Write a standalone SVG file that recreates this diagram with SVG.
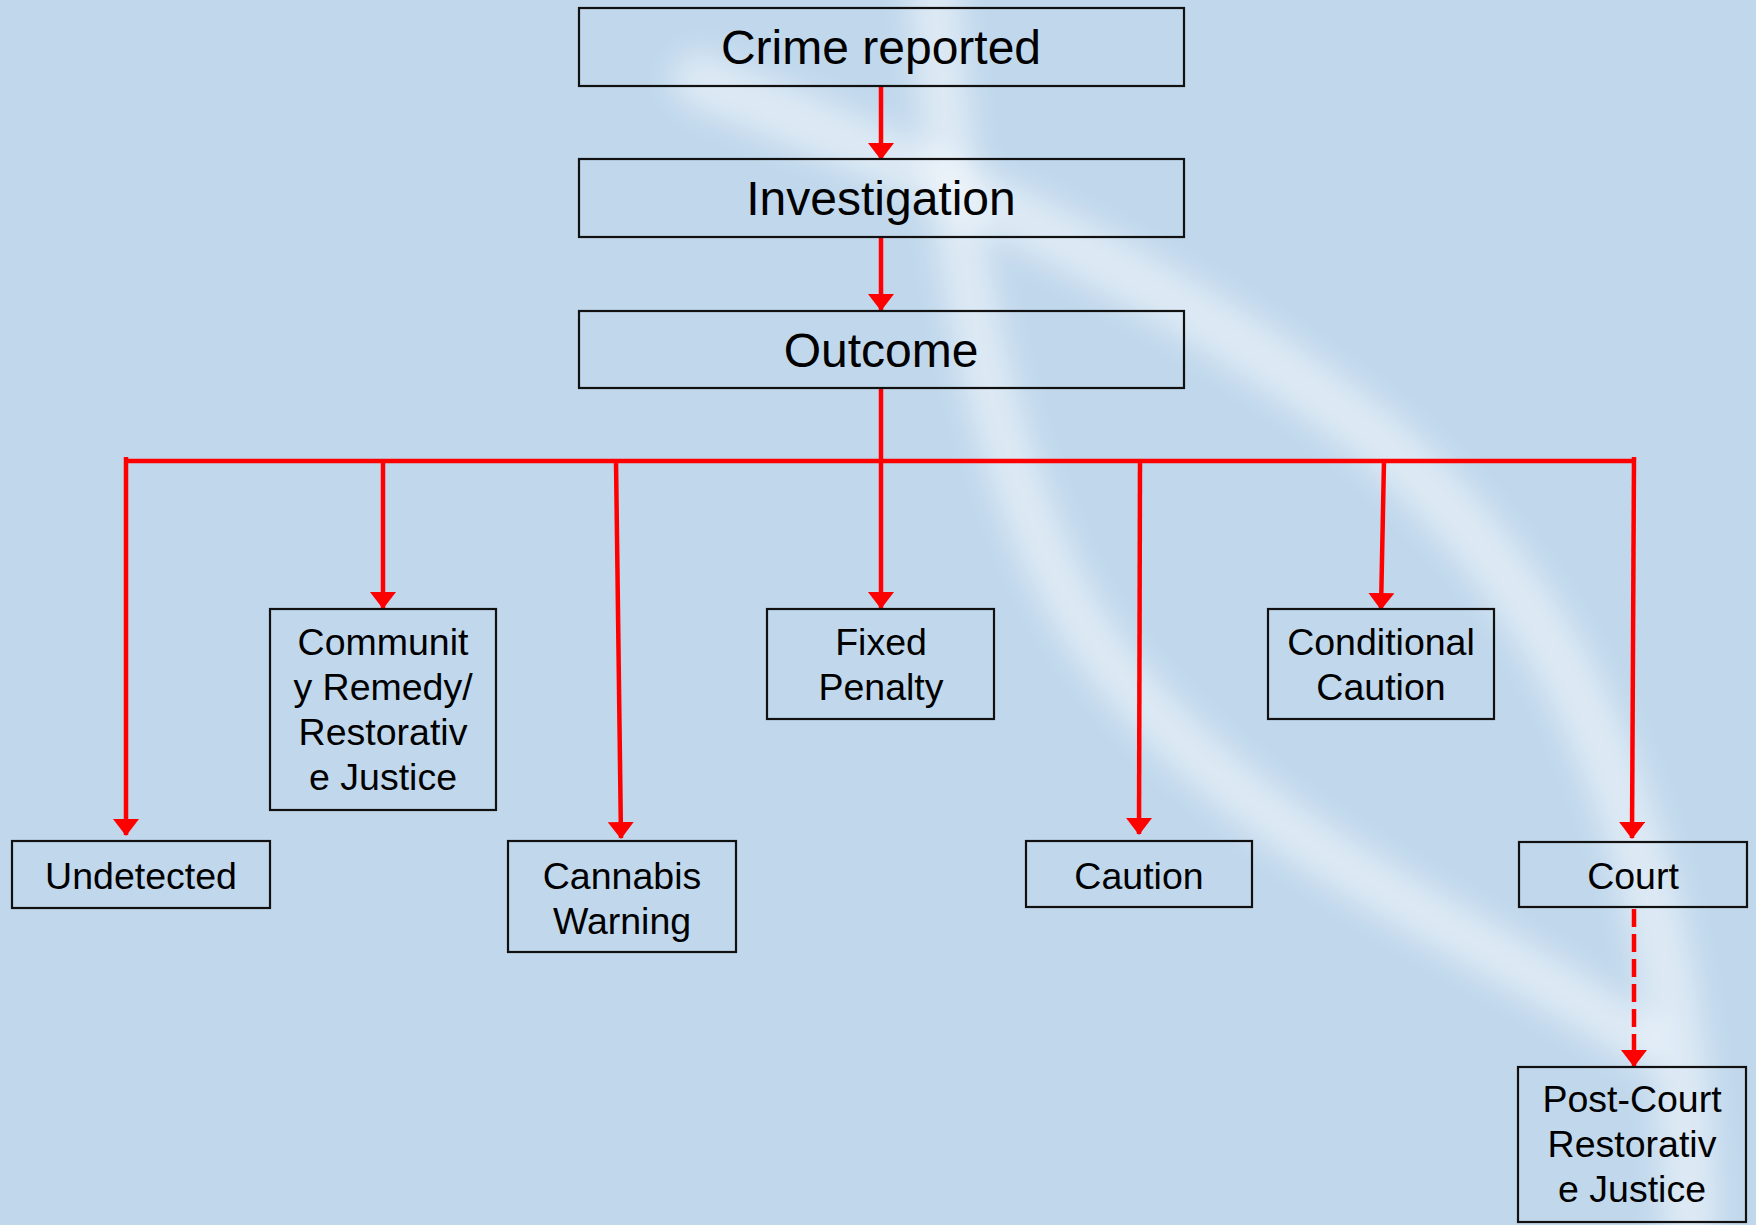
<svg xmlns="http://www.w3.org/2000/svg" width="1756" height="1225" viewBox="0 0 1756 1225">
<style>
.box{fill:none;stroke:#111;stroke-width:2.2}
.big{font-family:"Liberation Sans",Arial,sans-serif;font-size:48px;fill:#000;text-anchor:middle}
.sm{font-family:"Liberation Sans",Arial,sans-serif;font-size:37.5px;fill:#000;text-anchor:middle}
.con{stroke:#FF0000;stroke-width:4.5;fill:none}
.arr{marker-end:url(#ah)}
.dash{stroke-dasharray:18 7}
</style>
<defs>
<marker id="ah" markerUnits="userSpaceOnUse" markerWidth="17" markerHeight="26" viewBox="0 0 17 26" refX="16" refY="13" orient="auto">
<path d="M0,0 L17,13 L0,26 z" fill="#FF0000"/>
</marker>
<filter id="blur" x="-20%" y="-20%" width="140%" height="140%"><feGaussianBlur stdDeviation="14"/></filter>
</defs>
<rect width="1756" height="1225" fill="#C1D8EC"/>
<g filter="url(#blur)" fill="none" stroke="#FFFFFF" stroke-linecap="round">
<path d="M700,80 C900,160 1150,260 1380,440 C1560,600 1680,820 1690,1225" stroke-width="55" opacity="0.45"/>
<path d="M935,0 C950,200 980,480 1100,650 C1250,850 1480,930 1640,1040" stroke-width="50" opacity="0.45"/>
</g>
<g id="connectors">
<line class="con arr" x1="881" y1="86" x2="881" y2="159"/>
<line class="con arr" x1="881" y1="237" x2="881" y2="310"/>
<line class="con" x1="881" y1="388" x2="881" y2="461"/>
<line class="con" x1="125" y1="461" x2="1636" y2="461"/>
<line class="con arr" x1="126" y1="457" x2="126" y2="835"/>
<line class="con arr" x1="383" y1="461" x2="383" y2="608"/>
<line class="con arr" x1="616" y1="461" x2="621" y2="838"/>
<line class="con arr" x1="881" y1="461" x2="881" y2="608"/>
<line class="con arr" x1="1140" y1="461" x2="1139" y2="834"/>
<line class="con arr" x1="1384" y1="461" x2="1381" y2="609"/>
<line class="con arr" x1="1634" y1="457" x2="1632" y2="838"/>
<line class="con arr dash" x1="1634" y1="909" x2="1634" y2="1066"/>
</g>
<g id="crime"><rect class="box" x="579" y="8" width="605" height="78"/><text class="big" x="881" y="64">Crime reported</text></g>
<g id="investigation"><rect class="box" x="579" y="159" width="605" height="78"/><text class="big" x="881" y="215">Investigation</text></g>
<g id="outcome"><rect class="box" x="579" y="311" width="605" height="77"/><text class="big" x="881" y="367">Outcome</text></g>
<g id="undetected"><rect class="box" x="12" y="841" width="258" height="67"/><text class="sm" x="141" y="889">Undetected</text></g>
<g id="community"><rect class="box" x="270" y="609" width="226" height="201"/><text class="sm" x="383"><tspan x="383" y="655">Communit</tspan><tspan x="383" y="700">y Remedy/</tspan><tspan x="383" y="745">Restorativ</tspan><tspan x="383" y="790">e Justice</tspan></text></g>
<g id="cannabis"><rect class="box" x="508" y="841" width="228" height="111"/><text class="sm"><tspan x="622" y="889">Cannabis</tspan><tspan x="622" y="934">Warning</tspan></text></g>
<g id="fixed"><rect class="box" x="767" y="609" width="227" height="110"/><text class="sm"><tspan x="881" y="655">Fixed</tspan><tspan x="881" y="700">Penalty</tspan></text></g>
<g id="caution"><rect class="box" x="1026" y="841" width="226" height="66"/><text class="sm" x="1139" y="889">Caution</text></g>
<g id="conditional"><rect class="box" x="1268" y="609" width="226" height="110"/><text class="sm"><tspan x="1381" y="655">Conditional</tspan><tspan x="1381" y="700">Caution</tspan></text></g>
<g id="court"><rect class="box" x="1519" y="842" width="228" height="65"/><text class="sm" x="1633" y="889">Court</text></g>
<g id="postcourt"><rect class="box" x="1518" y="1067" width="228" height="155"/><text class="sm"><tspan x="1632" y="1112">Post-Court</tspan><tspan x="1632" y="1157">Restorativ</tspan><tspan x="1632" y="1202">e Justice</tspan></text></g>
</svg>
